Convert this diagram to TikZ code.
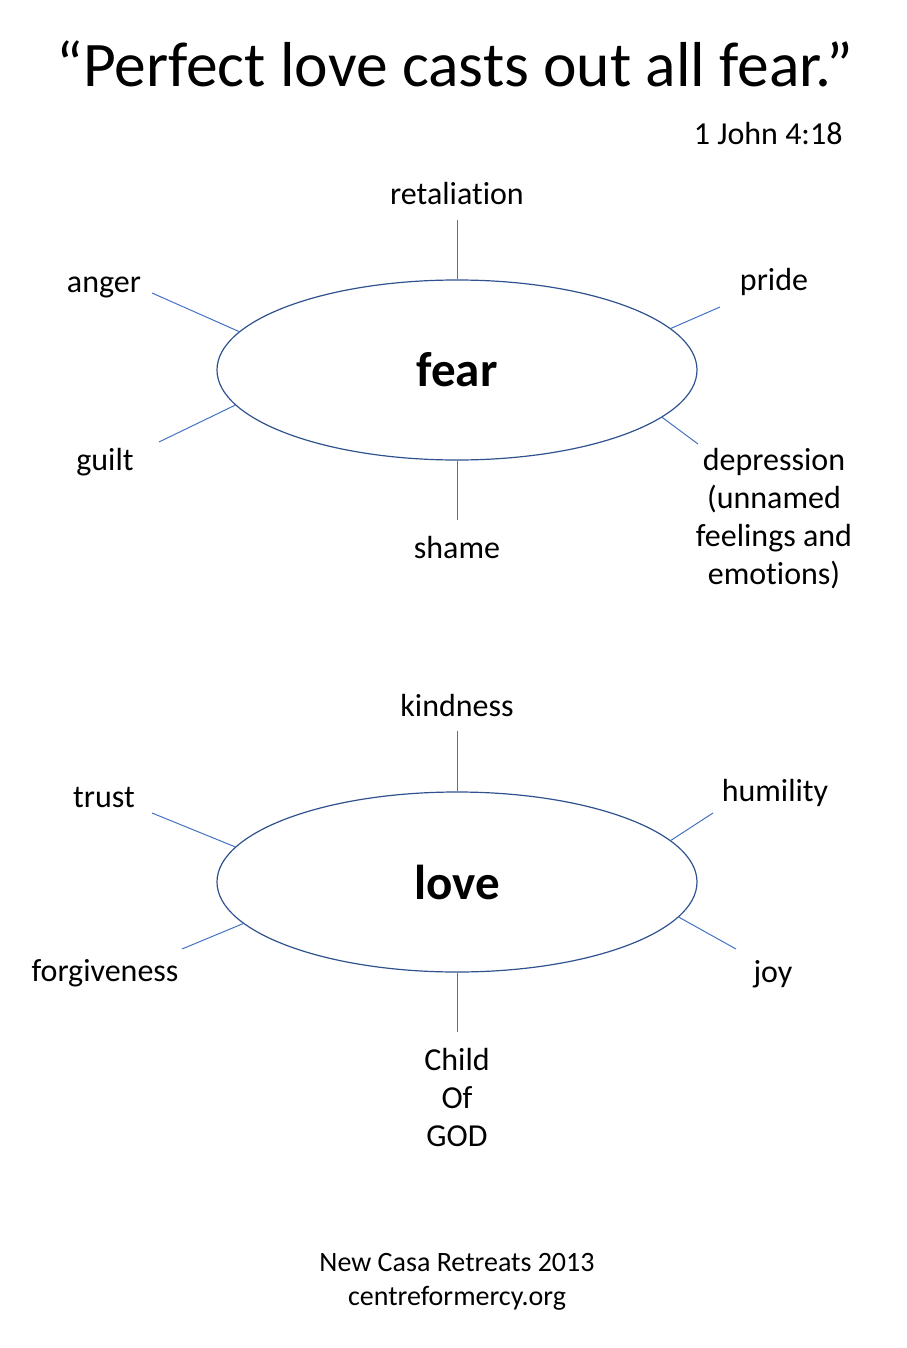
\documentclass[tikz,border=0pt]{standalone}
\usepackage{fontspec}
\setmainfont{Carlito}[Ligatures={NoCommon,NoDiscretionary}]
\usetikzlibrary{shapes.geometric}
\definecolor{spokeblue}{HTML}{4472C4}
\definecolor{rimblue}{HTML}{2F528F}
\begin{document}
\begin{tikzpicture}[x=1pt,y=-1pt,line width=1pt,
  hub/.style={ellipse,draw=rimblue,line width=1.2pt,minimum width=480pt,minimum height=180pt,
    inner sep=0pt,font=\fontsize{49}{55}\selectfont\bfseries},
  word/.style={inner sep=0pt,align=center,font=\fontsize{32}{38}\selectfont},
  spoke/.style={draw=spokeblue}]
 \useasboundingbox (0,0) rectangle (906,1348);
 \node[inner sep=0pt,font=\fontsize{63.5}{70}\selectfont] (title) at (455,64) {“Perfect love casts out all fear.”};
 \node[word,anchor=east] (verse) at (843,134) {1 John 4:18};
 % fear
 \node[hub] (fear) at (457,370) {fear};
 \node[word] (retaliation) at (457,194) {retaliation};
 \node[word] (anger) at (104,287) {anger};
 \node[word] (pride) at (774,282) {pride};
 \node[word] (guilt) at (105,462) {guilt};
 \node[word] (depression) at (774,519) {depression\\(unnamed\\feelings and\\emotions)};
 \node[word] (shame) at (457,548) {shame};
 \coordinate (retaliationend) at (457,220);
 \coordinate (angerend) at (152,293);
 \coordinate (prideend) at (720,307);
 \coordinate (guiltend) at (159,442);
 \coordinate (depressionend) at (698,444);
 \coordinate (shameend) at (457,520);
 \draw[spoke] (retaliationend) -- (fear.90);
 \draw[spoke] (angerend) -- (fear.170);
 \draw[spoke] (prideend) -- (fear.11.5);
 \draw[spoke] (guiltend) -- (fear.189);
 \draw[spoke] (depressionend) -- (fear.347);
 \draw[spoke] (shameend) -- (fear.270);
 % love
 \node[hub] (love) at (457,882) {love};
 \node[word] (kindness) at (457,706) {kindness};
 \node[word] (trust) at (104,797) {trust};
 \node[word] (humility) at (775,793) {humility};
 \node[word] (forgiveness) at (105,973) {forgiveness};
 \node[word] (joy) at (773,974) {joy};
 \node[word] (child) at (457,1097) {Child\\Of\\GOD};
 \coordinate (kindnessend) at (457,731);
 \coordinate (trustend) at (152,813);
 \coordinate (humilityend) at (713,813);
 \coordinate (forgivenessend) at (182,949);
 \coordinate (joyend) at (736,949);
 \coordinate (childend) at (457,1032);
 \draw[spoke] (kindnessend) -- (love.90);
 \draw[spoke] (trustend) -- (love.171);
 \draw[spoke] (humilityend) -- (love.11.7);
 \draw[spoke] (forgivenessend) -- (love.191);
 \draw[spoke] (joyend) -- (love.351);
 \draw[spoke] (childend) -- (love.270);
 \node[inner sep=0pt,align=center,font=\fontsize{28}{34}\selectfont] (footer) at (457,1282) {New Casa Retreats 2013\\centreformercy.org};
\end{tikzpicture}
\end{document}
